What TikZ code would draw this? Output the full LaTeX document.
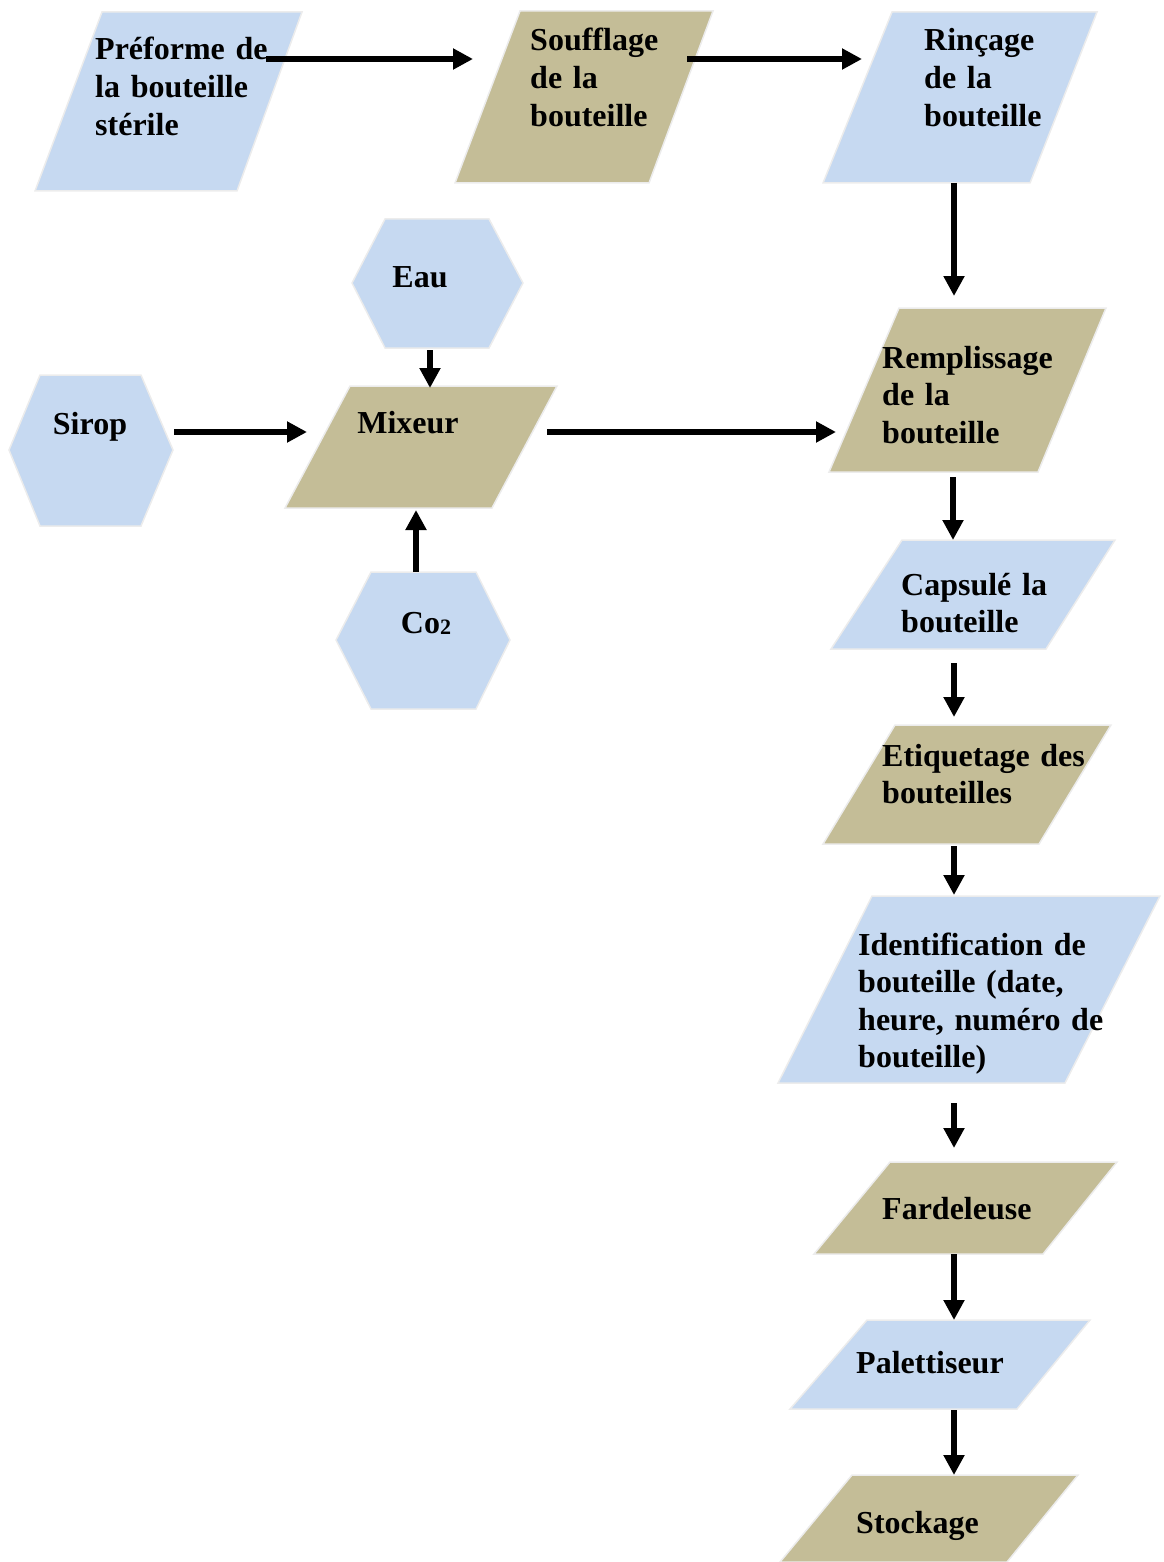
\documentclass[tikz,border=0pt]{standalone}
\usepackage{fontspec}
\setmainfont{Liberation Serif}
\usetikzlibrary{arrows.meta}
\definecolor{paleblue}{HTML}{C6D9F1}
\definecolor{khaki}{HTML}{C4BD97}
\definecolor{rim}{HTML}{ECECEC}
\begin{document}
\begin{tikzpicture}[x=1pt, y=-1pt,
  blueshape/.style={fill=paleblue, draw=rim, line width=1.5pt, line join=miter},
  tanshape/.style={fill=khaki, draw=rim, line width=1.5pt, line join=miter},
  boxtext/.style={font=\fontsize{32}{37.6}\selectfont\bfseries, anchor=base west,
    inner sep=0pt, text width=330pt, align=left},
  onetext/.style={font=\fontsize{32}{37.6}\selectfont\bfseries, anchor=base, inner sep=0pt},
  flow/.style={line width=5.5pt, -{Triangle[length=20pt, width=20pt]}}]

% page frame
\useasboundingbox (0,0) rectangle (1163,1562);

% ---- shapes ----
% top row
\draw[blueshape] (102,12) -- (302,12) -- (237,191) -- (35,191) -- cycle;
\draw[tanshape]  (520,11) -- (713,11) -- (649,183) -- (455,183) -- cycle;
\draw[blueshape] (892,12) -- (1097,12) -- (1030,183) -- (823,183) -- cycle;

% ingredients (hexagons) and mixer
\draw[blueshape] (352,283) -- (385,219) -- (489,219) -- (523,283) -- (489,348) -- (385,348) -- cycle;
\draw[blueshape] (9,450) -- (40,375) -- (141,375) -- (173,450) -- (141,526) -- (40,526) -- cycle;
\draw[blueshape] (336,640) -- (371,572) -- (476,572) -- (510,640) -- (476,709) -- (371,709) -- cycle;
\draw[tanshape]  (350,386) -- (557,386) -- (492,508) -- (285,508) -- cycle;

% right column
\draw[tanshape]  (899,308) -- (1106,308) -- (1038,472) -- (829,472) -- cycle;
\draw[blueshape] (902,540) -- (1115,540) -- (1046,649) -- (831,649) -- cycle;
\draw[tanshape]  (895,725) -- (1111,725) -- (1039,844) -- (823,844) -- cycle;
\draw[blueshape] (872,896) -- (1160,896) -- (1065,1083) -- (778,1083) -- cycle;
\draw[tanshape]  (890,1162) -- (1117,1162) -- (1043,1254) -- (814,1254) -- cycle;
\draw[blueshape] (867,1320) -- (1090,1320) -- (1017,1409) -- (790,1409) -- cycle;
\draw[tanshape]  (852,1475) -- (1078,1475) -- (1007,1562) -- (780,1562) -- cycle;

% ---- texts ----
\node[boxtext] (pre)   at (95,60)   {Préforme de\\la bouteille\\stérile};
\node[boxtext] (souf)  at (530,51)  {Soufflage\\de la\\bouteille};
\node[boxtext] (rinc)  at (924,51)  {Rinçage\\de la\\bouteille};
\node[onetext] (eau)   at (420,287) {Eau};
\node[onetext] (sirop) at (90,434)  {Sirop};
\node[onetext] (mix)   at (408,433) {Mixeur};
\node[onetext] (co2)   at (426,633) {Co{\fontsize{22}{22}\selectfont\raisebox{-1.5pt}{2}}};
\node[boxtext] (remp)  at (882,368) {Remplissage\\de la\\bouteille};
\node[boxtext] (caps)  at (901,595) {Capsulé la\\bouteille};
\node[boxtext] (etiq)  at (882,766) {Etiquetage des\\bouteilles};
\node[boxtext] (ident) at (858,955) {Identification de\\bouteille (date,\\heure, numéro de\\bouteille)};
\node[boxtext] (fard)  at (882,1219) {Fardeleuse};
\node[boxtext] (palet) at (856,1373) {Palettiseur};
\node[boxtext] (stock) at (856,1533) {Stockage};

% ---- connector end points ----
\coordinate (pre-o)   at (266,59);
\coordinate (souf-i)  at (473,59);
\coordinate (souf-o)  at (687,59);
\coordinate (rinc-i)  at (862,59);
\coordinate (rinc-o)  at (954,183);
\coordinate (remp-i)  at (954,296);
\coordinate (eau-o)   at (430,350);
\coordinate (mix-t)   at (430,388);
\coordinate (sirop-o) at (174,432);
\coordinate (mix-l)   at (307,432);
\coordinate (co2-o)   at (416,572);
\coordinate (mix-b)   at (416,510);
\coordinate (mix-o)   at (547,432);
\coordinate (remp-l)  at (836,432);
\coordinate (remp-o)  at (953,477);
\coordinate (caps-i)  at (953,540);
\coordinate (caps-o)  at (954,663);
\coordinate (etiq-i)  at (954,717);
\coordinate (etiq-o)  at (954,846);
\coordinate (ident-i) at (954,895);
\coordinate (ident-o) at (954,1103);
\coordinate (fard-i)  at (954,1148);
\coordinate (fard-o)  at (954,1254);
\coordinate (palet-i) at (954,1320);
\coordinate (palet-o) at (954,1410);
\coordinate (stock-i) at (954,1475);

% ---- connectors ----
\draw[flow] (pre-o) -- (souf-i);
\draw[flow] (souf-o) -- (rinc-i);
\draw[flow] (rinc-o) -- (remp-i);
\draw[flow] (eau-o) -- (mix-t);
\draw[flow] (sirop-o) -- (mix-l);
\draw[flow] (co2-o) -- (mix-b);
\draw[flow] (mix-o) -- (remp-l);
\draw[flow] (remp-o) -- (caps-i);
\draw[flow] (caps-o) -- (etiq-i);
\draw[flow] (etiq-o) -- (ident-i);
\draw[flow] (ident-o) -- (fard-i);
\draw[flow] (fard-o) -- (palet-i);
\draw[flow] (palet-o) -- (stock-i);
\end{tikzpicture}
\end{document}
